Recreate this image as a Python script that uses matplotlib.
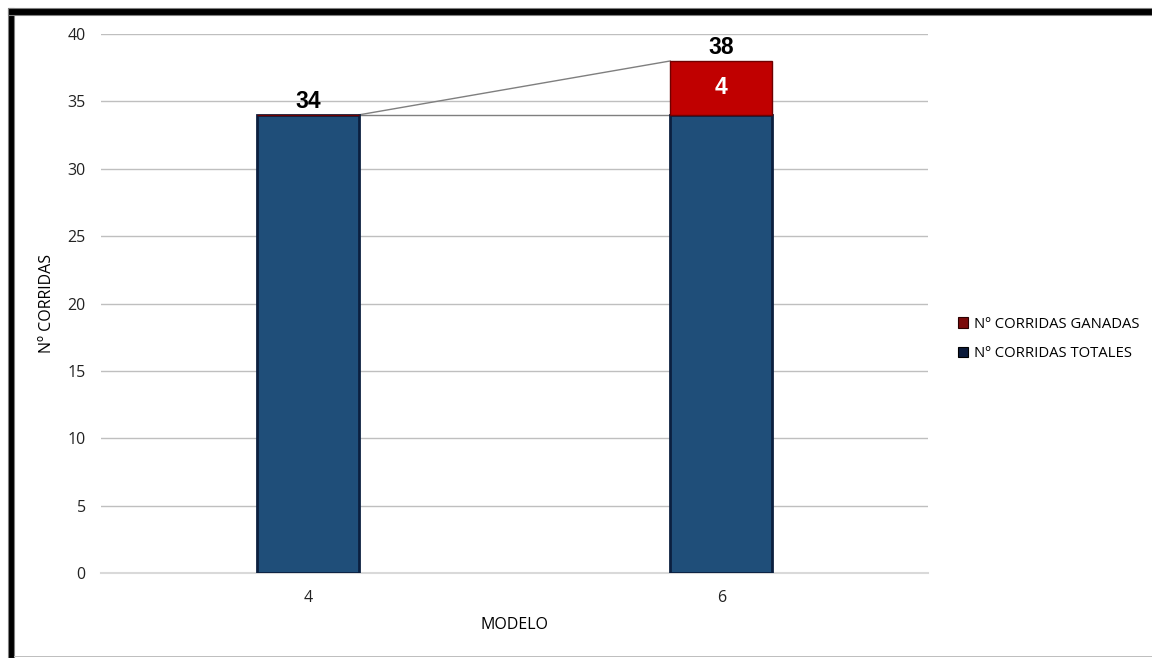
import matplotlib
matplotlib.use("Agg")
import matplotlib.pyplot as plt
from matplotlib.patches import Rectangle, Patch
from matplotlib.transforms import IdentityTransform

# Data
modelos = ["4", "6"]
corridas_totales = [34, 34]
corridas_ganadas = [0, 4]
totales_etiqueta = [t + g for t, g in zip(corridas_totales, corridas_ganadas)]
y_ticks = [0, 5, 10, 15, 20, 25, 30, 35, 40]

serie_totales = "Nº CORRIDAS TOTALES"
serie_ganadas = "Nº CORRIDAS GANADAS"

BLUE = "#1F4E79"
BLUE_EDGE = "#0B1F3F"
RED = "#C00000"
RED_EDGE = "#6E0000"
FONT = "Open Sans"

fig = plt.figure(figsize=(11.52, 6.58), dpi=100)
ax = fig.add_axes([0.0877, 0.1292, 0.7179, 0.8191])

x = list(range(len(modelos)))
width = 0.247

ax.bar(x, corridas_totales, width=width, color=BLUE, edgecolor=BLUE_EDGE,
       linewidth=2, zorder=3)
ax.bar(x, corridas_ganadas, width=width, bottom=corridas_totales, color=RED,
       edgecolor=RED_EDGE, linewidth=1, zorder=3)

# series lines between consecutive bars
for i in range(len(x) - 1):
    x0 = x[i] + width / 2
    x1 = x[i + 1] - width / 2
    ax.plot([x0, x1], [corridas_totales[i], corridas_totales[i + 1]],
            color="#7F7F7F", lw=1, zorder=2)
    ax.plot([x0, x1], [totales_etiqueta[i], totales_etiqueta[i + 1]],
            color="#7F7F7F", lw=1, zorder=2)

# value labels
for xi, tot in zip(x, totales_etiqueta):
    ax.annotate(str(tot), (xi, tot), xytext=(0, 1.5), textcoords="offset points",
                ha="center", va="bottom", fontsize=16.5, fontweight="bold",
                family="Liberation Sans", color="black", zorder=5)
for xi, base, g in zip(x, corridas_totales, corridas_ganadas):
    if g > 0:
        ax.text(xi, base + g / 2, str(g), ha="center", va="center",
                fontsize=16.5, fontweight="bold", family="Liberation Sans",
                color="white", zorder=5)

ax.set_xlim(-0.5, len(x) - 0.5)
ax.set_ylim(0, 40)
ax.set_yticks(y_ticks)
ax.set_xticks(x)
ax.set_xticklabels(modelos)
ax.yaxis.grid(True, color="#BFBFBF", lw=1, zorder=0)
ax.set_axisbelow(True)
for side in ["top", "right", "left"]:
    ax.spines[side].set_visible(False)
ax.spines["bottom"].set_color("#D9D9D9")
ax.spines["bottom"].set_linewidth(1.5)
ax.tick_params(axis="both", length=0, labelsize=11.5, labelcolor="#222222")
ax.tick_params(axis="y", pad=11)
ax.tick_params(axis="x", pad=12)
for lab in ax.get_xticklabels() + ax.get_yticklabels():
    lab.set_family(FONT)

ax.set_ylabel("Nº CORRIDAS", fontsize=11.5, family=FONT, labelpad=9)
ax.set_xlabel("MODELO", fontsize=11.5, family=FONT, labelpad=8)

handles = [Patch(facecolor="#7A0A0A", edgecolor="#2a0000", lw=0.8),
           Patch(facecolor="#0B1A3A", edgecolor="#000000", lw=0.8)]
fig.legend(handles, [serie_ganadas, serie_totales], loc="center left",
           bbox_to_anchor=(0.82, 0.485), frameon=False,
           prop={"family": FONT, "size": 10.7}, handlelength=0.7,
           handleheight=0.7, handletextpad=0.4, labelspacing=0.95)

# outer frame
ident = IdentityTransform()
H = 658
fig.patches.append(Rectangle((8, 0), 6, H - 8, transform=ident, facecolor="black",
                             edgecolor="#808080", lw=0.8, figure=fig))
fig.patches.append(Rectangle((8, H - 15), 1152 - 8, 7, transform=ident,
                             facecolor="black", edgecolor="#808080", lw=0.8,
                             figure=fig))
fig.patches.append(Rectangle((14, 1), 1152 - 14, 1, transform=ident,
                             facecolor="#BFBFBF", edgecolor="none", figure=fig))

fig.savefig("out.png", dpi=100, facecolor="white")
